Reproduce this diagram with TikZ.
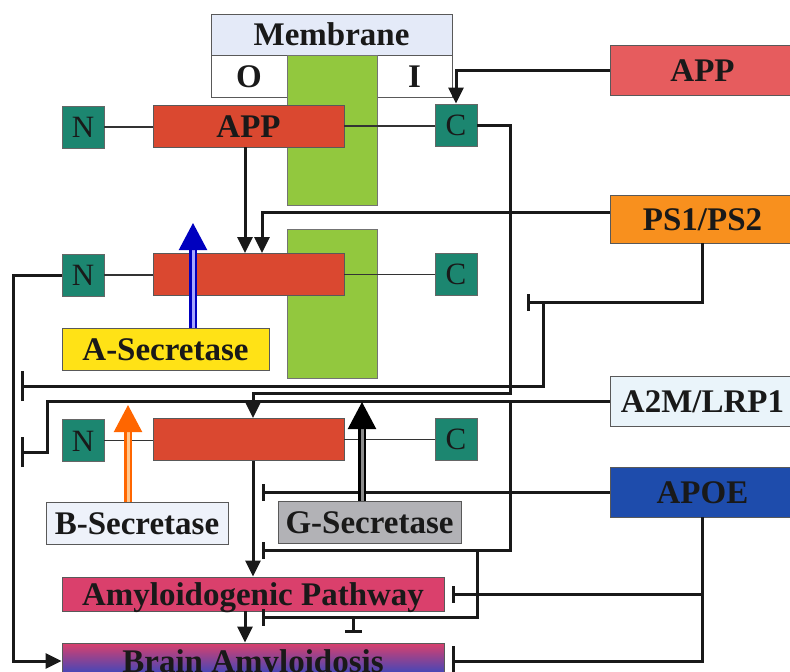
\documentclass[tikz,border=0pt]{standalone}
\usepackage{fontspec}
\setmainfont{Liberation Serif}
\usepackage{xcolor}
\usetikzlibrary{arrows.meta,positioning,calc}

\definecolor{membblue}{RGB}{228,234,248}
\definecolor{wallgreen}{RGB}{146,200,62}
\definecolor{termteal}{RGB}{28,134,112}
\definecolor{fragred}{RGB}{218,72,48}
\definecolor{appsalmon}{RGB}{230,92,94}
\definecolor{psorange}{RGB}{248,144,30}
\definecolor{a2mblue}{RGB}{234,244,250}
\definecolor{apoeblue}{RGB}{30,76,172}
\definecolor{secyellow}{RGB}{255,226,22}
\definecolor{secpale}{RGB}{238,242,250}
\definecolor{secgray}{RGB}{178,178,182}
\definecolor{amyred}{RGB}{218,64,108}
\definecolor{brainblue}{RGB}{36,72,200}

\begin{document}
\begin{tikzpicture}[x=1pt, y=-1pt,
  lbl/.style={font=\fontsize{33}{36}\selectfont\bfseries, text=black!90,
              text height=22pt, text depth=0pt, inner sep=0pt},
  box/.style={lbl, rectangle, draw=black!65, line width=0.9pt},
  memb/.style={box, fill=membblue, minimum width=241pt, minimum height=41pt},
  cell/.style={box, fill=white, minimum width=75pt, minimum height=42pt},
  wall/.style={rectangle, draw=black!55, line width=0.9pt, fill=wallgreen,
               minimum width=90pt, minimum height=150pt, inner sep=0pt},
  term/.style={rectangle, draw=black!60, line width=0.9pt, fill=termteal,
               minimum size=42pt, inner sep=0pt, text=black!90,
               font=\fontsize{31}{33}\selectfont, text height=21pt, text depth=0pt},
  frag/.style={box, fill=fragred, minimum width=191pt, minimum height=42pt},
  factor/.style={box, minimum width=185pt, minimum height=50pt},
  secr/.style={box, minimum height=42pt},
  stage/.style={box, minimum width=382pt, minimum height=34pt},
  tie/.style={draw=black!80, line width=1.5pt},
  link/.style={draw=black!90, line width=3pt, -{Triangle[length=16pt,width=15pt]}},
  inhib/.style={draw=black!90, line width=3pt, -{Bar[width=17pt,line width=3pt]}},
  wideinhib/.style={inhib, -{Bar[width=30pt,line width=3pt]}},
  cut/.style={line width=2.2pt, double distance=3pt, -{Triangle[length=27pt,width=28pt]}},
]
  \useasboundingbox (0,0) rectangle (790,672);

  % Membrane header and the two sides
  \node[memb] (memb) at (331.5,34.5) {Membrane};
  \node[cell, minimum width=76pt] (outer) at (249,76) {O};
  \node[cell] (inner) at (414.5,76) {I};
  \node[wall] (wallA) at (332,130) {};
  \node[wall, minimum height=149pt] (wallB) at (332,303.5) {};

  % Full length APP across the membrane
  \node[term] (n1) at (83,127) {N};
  \node[frag] (app1) at (248.5,126) {APP};
  \node[term] (c1) at (456,125) {C};

  % Second fragment row
  \node[term] (n2) at (83,275) {N};
  \node[frag] (frag2) at (248.5,274.5) {};
  \node[term] (c2) at (456,274) {C};
  \node[secr, fill=secyellow, minimum width=207pt] (aSec) at (165.5,349.5) {A-Secretase};

  % Third fragment row
  \node[term] (n3) at (83,440.5) {N};
  \node[frag] (frag3) at (248.5,439.5) {};
  \node[term] (c3) at (456,439) {C};
  \node[secr, fill=secpale, minimum width=182pt] (bSec) at (137,523) {B-Secretase};
  \node[secr, fill=secgray, minimum width=183pt] (gSec) at (369.5,522) {G-Secretase};

  % Outcomes
  \node[stage, fill=amyred] (amyl) at (253,594) {Amyloidogenic Pathway};
  \node[stage, top color=amyred, bottom color=brainblue, minimum height=36pt]
       (brain) at (253,661) {Brain Amyloidosis};

  % Factors on the right
  \node[factor, fill=appsalmon] (appR) at (702.5,70) {APP};
  \node[factor, fill=psorange, minimum height=48pt] (ps) at (702.5,219) {PS1/PS2};
  \node[factor, fill=a2mblue] (a2m) at (702.5,401) {A2M/LRP1};
  \node[factor, fill=apoeblue] (apoe) at (702.5,492) {APOE};

  % Thin N/C tethers
  \draw[tie] (n1.east) -- (n1.east -| app1.west);
  \draw[tie] (app1.east) -- (app1.east -| c1.west);
  \draw[tie] (n2.east) -- (n2.east -| frag2.west);
  \draw[tie] (frag2.east) -- (frag2.east -| c2.west);
  \draw[tie] (n3.east) -- (n3.east -| frag3.west);
  \draw[tie] (frag3.east) -- (frag3.east -| c3.west);

  % Named corner points
  \coordinate (cdrop) at (510,393);
  \coordinate (psT) at (527,302);
  \coordinate (psfork) at (543,302);
  \coordinate (lineT1) at (21,386);
  \coordinate (nleft) at (13,275);
  \coordinate (a2mknee) at (47,401);
  \coordinate (lineT2) at (21,452);
  \coordinate (a2mfork) at (510,401);
  \coordinate (gT) at (262,550);
  \coordinate (a2mfork2) at (477,550);
  \coordinate (aT) at (262,617);
  \coordinate (downfork) at (353,617);
  \coordinate (downT) at (353,633);
  \coordinate (apoeT) at (262,492);
  \coordinate (apoefork) at (702.5,594);
  \coordinate (aTip) at (193,223);
  \coordinate (bTip) at (128,405);
  \coordinate (gTip) at (362,402);

  % ===== Activating paths =====
  \draw[link] (appR.west) -| (c1.north);
  \draw[link] ([xshift=-3.5pt]app1.south) -- ([xshift=-3.5pt]frag2.north);
  \draw[link] ([yshift=7pt]ps.west) -| ([xshift=13.5pt]frag2.north);
  \draw[link] (c1.east) -| (cdrop) -| ([xshift=4.5pt]frag3.north);
  \draw[link] (n2.west) -- (nleft) |- (brain.west);
  \draw[link] ([xshift=4.5pt]frag3.south) -- (amyl.north);
  \draw[link] ([xshift=-8pt]amyl.south) -- ([xshift=-8pt]brain.north);

  % ===== Inhibiting paths =====
  \draw[inhib] (ps.south) |- (psT);
  \draw[wideinhib] (psfork) |- (lineT1);
  \draw[wideinhib] (a2m.west) -- (a2mknee) |- (lineT2);
  \draw[inhib] (a2mfork) |- (gT);
  \draw[inhib] (a2mfork2) |- (aT);
  \draw[inhib] (downfork) -- (downT);
  \draw[inhib] (apoe.west) -- (apoeT);
  \draw[inhib] (apoefork) -- ([xshift=8pt]amyl.east);
  \draw[wideinhib] (apoe.south) |- ([xshift=8pt]brain.east);

  % Secretase cuts
  \draw[cut, draw=blue!75!black, double=blue!35, fill=blue!75!black]
       (aSec.north -| aTip) -- (aTip);
  \draw[cut, draw=orange!80!red, double=orange!45, fill=orange!80!red]
       (bSec.north -| bTip) -- (bTip);
  \draw[cut, draw=black, double=black!45, fill=black]
       (gSec.north -| gTip) -- (gTip);

\end{tikzpicture}
\end{document}
